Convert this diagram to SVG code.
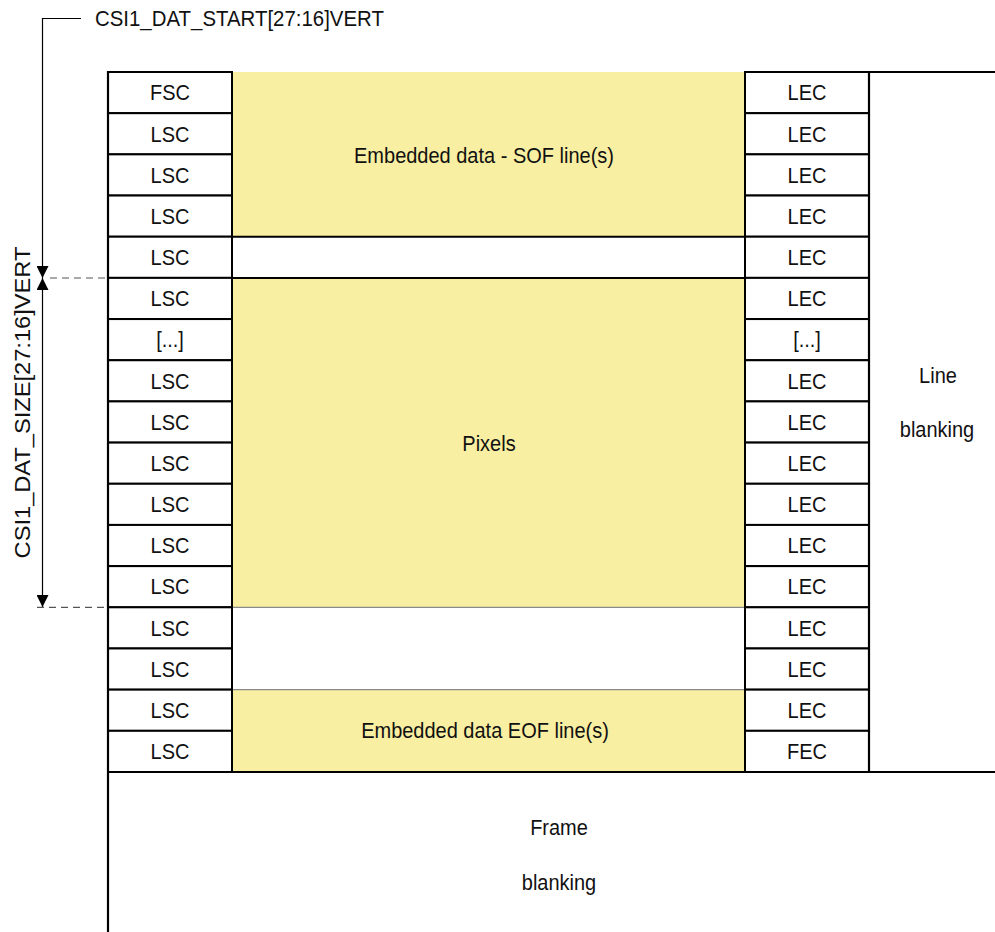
<svg xmlns="http://www.w3.org/2000/svg" width="995" height="932" viewBox="0 0 995 932">
<style>
.bg{fill:#ffffff}
.yel{fill:#F8EFA2;stroke:none}
.cell{fill:#ffffff;stroke:#000;stroke-width:2}
.frame{fill:none;stroke:#000;stroke-width:2.2}
.sepB{stroke:#000;stroke-width:2}
.sepG{stroke:#8a8a8a;stroke-width:1.2}
.t{font-family:"Liberation Sans",Arial,Helvetica,sans-serif;font-size:21.5px;fill:#111;text-anchor:middle}
.ts{text-anchor:start}
.dim{fill:none;stroke:#000;stroke-width:1.2}
.dash{fill:none;stroke:#555;stroke-width:1.2;stroke-dasharray:7 5}
</style>
<defs>
<marker id="ah" viewBox="0 0 12 12" refX="12" refY="6" markerWidth="12" markerHeight="12" markerUnits="userSpaceOnUse" orient="auto-start-reverse">
<path d="M0,0 L12,6 L0,12 z" fill="#000"/>
</marker>
</defs>
<rect class="bg" x="0" y="0" width="995" height="932"/>

<g id="sof-region">
<rect class="yel" x="232" y="72" width="513" height="164.7"/>
<text class="t" transform="translate(484,162.7) scale(0.93,1)">Embedded data - SOF line(s)</text>
</g>
<g id="pixels-region">
<rect class="yel" x="232" y="277.9" width="513" height="329.4"/>
<text class="t" transform="translate(489,450.5) scale(0.93,1)">Pixels</text>
</g>
<g id="eof-region">
<rect class="yel" x="232" y="689.65" width="513" height="82.35"/>
<text class="t" transform="translate(485,737.5) scale(0.93,1)">Embedded data EOF line(s)</text>
</g>
<g id="separators">
<line class="sepB" x1="232" y1="236.7" x2="745" y2="236.7"/>
<line class="sepB" x1="232" y1="277.9" x2="745" y2="277.9"/>
<line class="sepG" x1="232" y1="607.3" x2="745" y2="607.3"/>
<line class="sepG" x1="232" y1="689.65" x2="745" y2="689.65"/>
</g>

<g id="left-column">
<rect class="cell" x="108" y="72" width="124" height="41.18"/>
<rect class="cell" x="108" y="113.18" width="124" height="41.18"/>
<rect class="cell" x="108" y="154.35" width="124" height="41.18"/>
<rect class="cell" x="108" y="195.53" width="124" height="41.18"/>
<rect class="cell" x="108" y="236.71" width="124" height="41.18"/>
<rect class="cell" x="108" y="277.88" width="124" height="41.18"/>
<rect class="cell" x="108" y="319.06" width="124" height="41.18"/>
<rect class="cell" x="108" y="360.24" width="124" height="41.18"/>
<rect class="cell" x="108" y="401.41" width="124" height="41.18"/>
<rect class="cell" x="108" y="442.59" width="124" height="41.18"/>
<rect class="cell" x="108" y="483.76" width="124" height="41.18"/>
<rect class="cell" x="108" y="524.94" width="124" height="41.18"/>
<rect class="cell" x="108" y="566.12" width="124" height="41.18"/>
<rect class="cell" x="108" y="607.29" width="124" height="41.18"/>
<rect class="cell" x="108" y="648.47" width="124" height="41.18"/>
<rect class="cell" x="108" y="689.65" width="124" height="41.18"/>
<rect class="cell" x="108" y="730.82" width="124" height="41.18"/>
<text class="t" transform="translate(170,100.3) scale(0.93,1)">FSC</text>
<text class="t" transform="translate(170,141.5) scale(0.93,1)">LSC</text>
<text class="t" transform="translate(170,182.6) scale(0.93,1)">LSC</text>
<text class="t" transform="translate(170,223.8) scale(0.93,1)">LSC</text>
<text class="t" transform="translate(170,265) scale(0.93,1)">LSC</text>
<text class="t" transform="translate(170,306.2) scale(0.93,1)">LSC</text>
<text class="t" transform="translate(170,347.3) scale(0.93,1)">[...]</text>
<text class="t" transform="translate(170,388.5) scale(0.93,1)">LSC</text>
<text class="t" transform="translate(170,429.7) scale(0.93,1)">LSC</text>
<text class="t" transform="translate(170,470.9) scale(0.93,1)">LSC</text>
<text class="t" transform="translate(170,512.1) scale(0.93,1)">LSC</text>
<text class="t" transform="translate(170,553.2) scale(0.93,1)">LSC</text>
<text class="t" transform="translate(170,594.4) scale(0.93,1)">LSC</text>
<text class="t" transform="translate(170,635.6) scale(0.93,1)">LSC</text>
<text class="t" transform="translate(170,676.8) scale(0.93,1)">LSC</text>
<text class="t" transform="translate(170,717.9) scale(0.93,1)">LSC</text>
<text class="t" transform="translate(170,759.1) scale(0.93,1)">LSC</text>
</g>

<g id="right-column">
<rect class="cell" x="745" y="72" width="124" height="41.18"/>
<rect class="cell" x="745" y="113.18" width="124" height="41.18"/>
<rect class="cell" x="745" y="154.35" width="124" height="41.18"/>
<rect class="cell" x="745" y="195.53" width="124" height="41.18"/>
<rect class="cell" x="745" y="236.71" width="124" height="41.18"/>
<rect class="cell" x="745" y="277.88" width="124" height="41.18"/>
<rect class="cell" x="745" y="319.06" width="124" height="41.18"/>
<rect class="cell" x="745" y="360.24" width="124" height="41.18"/>
<rect class="cell" x="745" y="401.41" width="124" height="41.18"/>
<rect class="cell" x="745" y="442.59" width="124" height="41.18"/>
<rect class="cell" x="745" y="483.76" width="124" height="41.18"/>
<rect class="cell" x="745" y="524.94" width="124" height="41.18"/>
<rect class="cell" x="745" y="566.12" width="124" height="41.18"/>
<rect class="cell" x="745" y="607.29" width="124" height="41.18"/>
<rect class="cell" x="745" y="648.47" width="124" height="41.18"/>
<rect class="cell" x="745" y="689.65" width="124" height="41.18"/>
<rect class="cell" x="745" y="730.82" width="124" height="41.18"/>
<text class="t" transform="translate(807,100.3) scale(0.93,1)">LEC</text>
<text class="t" transform="translate(807,141.5) scale(0.93,1)">LEC</text>
<text class="t" transform="translate(807,182.6) scale(0.93,1)">LEC</text>
<text class="t" transform="translate(807,223.8) scale(0.93,1)">LEC</text>
<text class="t" transform="translate(807,265) scale(0.93,1)">LEC</text>
<text class="t" transform="translate(807,306.2) scale(0.93,1)">LEC</text>
<text class="t" transform="translate(807,347.3) scale(0.93,1)">[...]</text>
<text class="t" transform="translate(807,388.5) scale(0.93,1)">LEC</text>
<text class="t" transform="translate(807,429.7) scale(0.93,1)">LEC</text>
<text class="t" transform="translate(807,470.9) scale(0.93,1)">LEC</text>
<text class="t" transform="translate(807,512.1) scale(0.93,1)">LEC</text>
<text class="t" transform="translate(807,553.2) scale(0.93,1)">LEC</text>
<text class="t" transform="translate(807,594.4) scale(0.93,1)">LEC</text>
<text class="t" transform="translate(807,635.6) scale(0.93,1)">LEC</text>
<text class="t" transform="translate(807,676.8) scale(0.93,1)">LEC</text>
<text class="t" transform="translate(807,717.9) scale(0.93,1)">LEC</text>
<text class="t" transform="translate(807,759.1) scale(0.93,1)">FEC</text>
</g>

<g id="line-blanking">
<path class="frame" d="M745,72 H995 M869,72 V772 M745,772 H995"/>
<text class="t" transform="translate(938,383) scale(0.93,1)">Line</text>
<text class="t" transform="translate(937,437) scale(0.93,1)">blanking</text>
</g>

<g id="frame-blanking">
<path class="frame" d="M108,71 V932 M108,772 H745"/>
<text class="t" transform="translate(559,835) scale(0.93,1)">Frame</text>
<text class="t" transform="translate(559,890) scale(0.93,1)">blanking</text>
</g>

<g id="connectors">
<path class="dim" d="M81,18.5 H42.5 V278"  marker-end="url(#ah)"/>
<path class="dim" d="M42.5,278 V607" marker-start="url(#ah)" marker-end="url(#ah)"/>
<line class="dash" x1="50" y1="278" x2="107" y2="278"/>
<line class="dash" x1="37" y1="607.3" x2="107" y2="607.3"/>
<text class="t ts" transform="translate(95,26) scale(0.95,1)">CSI1_DAT_START[27:16]VERT</text>
<text class="t" transform="translate(30,402.5) rotate(-90) scale(1.1,1)">CSI1_DAT_SIZE[27:16]VERT</text>
</g>
</svg>
